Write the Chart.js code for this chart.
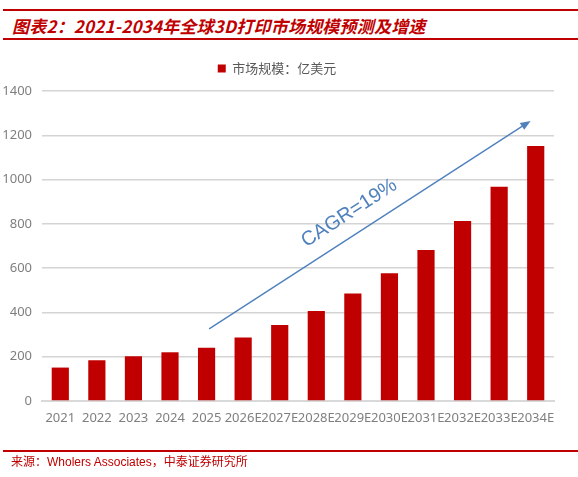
<!DOCTYPE html>
<html>
<head>
<meta charset="utf-8">
<script src="https://cdn.jsdelivr.net/npm/chart.js@4.4.1/dist/chart.umd.min.js"></script>
<style>
    body { margin: 0; background: #fff; }
    #wrap { position: relative; width: 578px; height: 477px; overflow: hidden; }
    .rule { position: absolute; left: 3px; right: 0; background: #c00000; }
    #title {
        position: absolute; left: 12px; top: 13px;
        font: italic bold 17px 'Noto Sans CJK SC', sans-serif;
        color: #c00000; white-space: nowrap; letter-spacing: 0.2px;
    }
    #source {
        position: absolute; left: 11px; top: 452px;
        font: 12px 'Noto Sans CJK SC', sans-serif;
        color: #c00000; white-space: nowrap;
    }
    #source .en { font-family: 'Liberation Sans', sans-serif; }
    canvas { position: absolute; left: 0; top: 0; }
</style>
</head>
<body>
<div id="wrap">
    <div class="rule" style="top:9px;height:2px"></div>
    <div id="title">图表2：2021-2034年全球3D打印市场规模预测及增速</div>
    <div class="rule" style="top:38px;height:2px"></div>
    <canvas id="marketChart" width="578" height="477"></canvas>
    <div class="rule" style="top:450px;height:1.5px"></div>
    <div id="source">来源：<span class="en">Wholers Associates</span>，中泰证券研究所</div>
</div>
<script>
// ==========================================
// 全球3D打印市场规模 (亿美元)
// ==========================================
const years = ['2021', '2022', '2023', '2024', '2025', '2026E', '2027E',
               '2028E', '2029E', '2030E', '2031E', '2032E', '2033E', '2034E'];
const marketSize = [151, 184, 202, 220, 241, 287, 343, 406, 485, 577, 682, 813, 968, 1152];
const yTicks = [0, 200, 400, 600, 800, 1000, 1200, 1400];

// CAGR arrow in data coords: [categoryIndex, value]
const arrowFrom = [4.07, 326];
const arrowTo = [12.86, 1265];
const cagrLabel = 'CAGR=19%';
const cagrAt = [7.9, 848];

const colors = {
    bar: '#c00000',
    grid: '#d4d4d4',
    axis: '#d9d9d9',
    tick: '#7f7f7f',
    legend: '#595959',
    arrow: '#4f81bd'
};

// Extra gap between legend and plot area
const legendGap = {
    id: 'legendGap',
    afterInit(chart) {
        const lg = chart.legend;
        if (!lg) return;
        const fit = lg.fit;
        lg.fit = function () {
            fit.call(this);
            this.height += 6;
        };
    }
};

// Draws the growth arrow and its label on top of the bars
const cagrArrow = {
    id: 'cagrArrow',
    afterDatasetsDraw(chart) {
        const { ctx, scales: { x, y } } = chart;
        const x1 = x.getPixelForValue(arrowFrom[0]), y1 = y.getPixelForValue(arrowFrom[1]);
        const x2 = x.getPixelForValue(arrowTo[0]), y2 = y.getPixelForValue(arrowTo[1]);
        const ang = Math.atan2(y2 - y1, x2 - x1);
        const head = 11;

        ctx.save();
        ctx.strokeStyle = colors.arrow;
        ctx.fillStyle = colors.arrow;
        ctx.lineWidth = 1.4;
        ctx.beginPath();
        ctx.moveTo(x1, y1);
        ctx.lineTo(x2 - Math.cos(ang) * head * 0.8, y2 - Math.sin(ang) * head * 0.8);
        ctx.stroke();

        ctx.beginPath();
        ctx.moveTo(x2, y2);
        ctx.lineTo(x2 - head * Math.cos(ang - 0.38), y2 - head * Math.sin(ang - 0.38));
        ctx.lineTo(x2 - head * Math.cos(ang + 0.38), y2 - head * Math.sin(ang + 0.38));
        ctx.closePath();
        ctx.fill();

        const tx = x.getPixelForValue(cagrAt[0]), ty = y.getPixelForValue(cagrAt[1]);
        ctx.translate(tx, ty);
        ctx.rotate(ang);
        ctx.font = "20px 'Liberation Sans', sans-serif";
        ctx.textAlign = 'center';
        ctx.textBaseline = 'middle';
        ctx.fillText(cagrLabel, 0, 0);
        ctx.restore();
    }
};

new Chart(document.getElementById('marketChart'), {
    type: 'bar',
    data: {
        labels: years,
        datasets: [{
            label: '市场规模：亿美元',
            data: marketSize,
            backgroundColor: colors.bar,
            borderWidth: 0,
            barPercentage: 0.94,
            categoryPercentage: 0.5
        }]
    },
    options: {
        responsive: false,
        animation: false,
        layout: { padding: { left: 0, right: 24, top: 48, bottom: 50 } },
        plugins: {
            legend: {
                position: 'top',
                labels: {
                    color: colors.legend,
                    boxWidth: 8,
                    boxHeight: 8,
                    padding: 14,
                    font: { family: "'Noto Sans CJK SC', sans-serif", size: 13 }
                }
            },
            tooltip: { enabled: false }
        },
        scales: {
            x: {
                grid: { display: false },
                border: { color: colors.axis, width: 2 },
                ticks: {
                    color: colors.tick,
                    autoSkip: false,
                    maxRotation: 0,
                    minRotation: 0,
                    padding: 1,
                    font: { family: "'Noto Sans', sans-serif", size: 13 }
                },
                afterFit(scale) { scale.height = 26; }
            },
            y: {
                min: 0,
                max: 1400,
                afterBuildTicks(scale) { scale.ticks = yTicks.map(v => ({ value: v })); },
                grid: { color: colors.grid, lineWidth: 1.5, drawTicks: false },
                border: { display: false },
                ticks: {
                    color: colors.tick,
                    padding: 10,
                    callback: v => String(v),
                    font: { family: "'Noto Sans', sans-serif", size: 13 }
                },
                afterFit(scale) { scale.width = 42; }
            }
        }
    },
    plugins: [legendGap, cagrArrow]
});
</script>
</body>
</html>
